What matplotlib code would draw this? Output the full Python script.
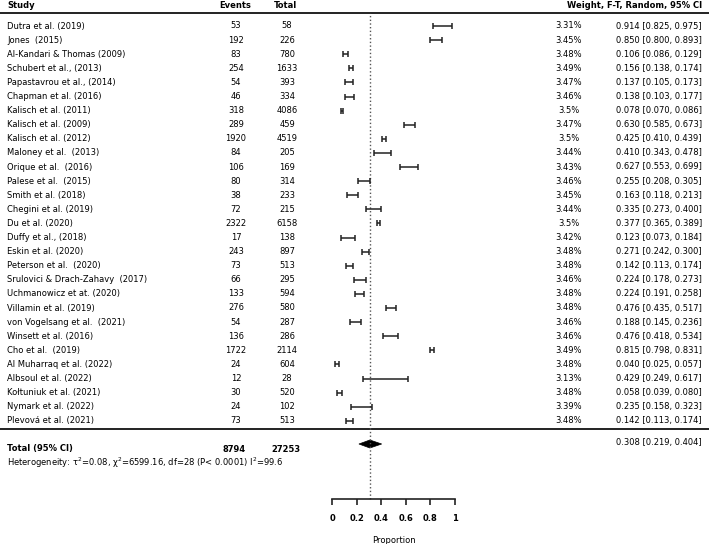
import matplotlib
matplotlib.use('Agg')
import matplotlib.pyplot as plt
from matplotlib.patches import Polygon

# study level data
studies = ["Dutra et al. (2019)", "Jones  (2015)", "Al-Kandari & Thomas (2009)",
           "Schubert et al., (2013)", "Papastavrou et al., (2014)", "Chapman et al. (2016)",
           "Kalisch et al. (2011)", "Kalisch et al. (2009)", "Kalisch et al. (2012)",
           "Maloney et al.  (2013)", "Orique et al.  (2016)", "Palese et al.  (2015)",
           "Smith et al. (2018)", "Chegini et al. (2019)", "Du et al. (2020)",
           "Duffy et al., (2018)", "Eskin et al. (2020)", "Peterson et al.  (2020)",
           "Srulovici & Drach-Zahavy  (2017)", "Uchmanowicz et at. (2020)",
           "Villamin et al. (2019)", "von Vogelsang et al.  (2021)", "Winsett et al. (2016)",
           "Cho et al.  (2019)", "Al Muharraq et al. (2022)", "Albsoul et al. (2022)",
           "Kołtuniuk et al. (2021)", "Nymark et al. (2022)", "Plevová et al. (2021)"]
events = [53, 192, 83, 254, 54, 46, 318, 289, 1920, 84, 106, 80, 38, 72, 2322, 17,
          243, 73, 66, 133, 276, 54, 136, 1722, 24, 12, 30, 24, 73]
totals = [58, 226, 780, 1633, 393, 334, 4086, 459, 4519, 205, 169, 314, 233, 215, 6158,
          138, 897, 513, 295, 594, 580, 287, 286, 2114, 604, 28, 520, 102, 513]
weights = [3.31, 3.45, 3.48, 3.49, 3.47, 3.46, 3.5, 3.47, 3.5, 3.44, 3.43, 3.46, 3.45,
           3.44, 3.5, 3.42, 3.48, 3.48, 3.46, 3.48, 3.48, 3.46, 3.46, 3.49, 3.48, 3.13,
           3.48, 3.39, 3.48]
est = [0.914, 0.850, 0.106, 0.156, 0.137, 0.138, 0.078, 0.630, 0.425, 0.410, 0.627,
       0.255, 0.163, 0.335, 0.377, 0.123, 0.271, 0.142, 0.224, 0.224, 0.476, 0.188,
       0.476, 0.815, 0.040, 0.429, 0.058, 0.235, 0.142]
lo = [0.825, 0.800, 0.086, 0.138, 0.105, 0.103, 0.070, 0.585, 0.410, 0.343, 0.553,
      0.208, 0.118, 0.273, 0.365, 0.073, 0.242, 0.113, 0.178, 0.191, 0.435, 0.145,
      0.418, 0.798, 0.025, 0.249, 0.039, 0.158, 0.113]
hi = [0.975, 0.893, 0.129, 0.174, 0.173, 0.177, 0.086, 0.673, 0.439, 0.478, 0.699,
      0.305, 0.213, 0.400, 0.389, 0.184, 0.300, 0.174, 0.273, 0.258, 0.517, 0.236,
      0.534, 0.831, 0.057, 0.617, 0.080, 0.323, 0.174]

# pooled estimate
total_events = 8794
total_n = 27253
pooled = 0.308
pooled_lo = 0.219
pooled_hi = 0.404
het_text = "Heterogeneity: τ$^2$=0.08, χ$^2$=6599.16, df=28 (P< 0.0001) I$^2$=99.6"
xticks = [0, 0.2, 0.4, 0.6, 0.8, 1]
xticklabels = ["0", "0.2", "0.4", "0.6", "0.8", "1"]

plt.rcParams['font.family'] = 'DejaVu Sans'
FS = 6
W, H = 709, 544
dark = '#222222'

fig = plt.figure(figsize=(W / 100, H / 100), dpi=100)

# text layer in pixel coordinates
ax_t = fig.add_axes([0, 0, 1, 1])
ax_t.set_xlim(0, W)
ax_t.set_ylim(H, 0)
ax_t.axis('off')

row_y = [26 + 14.1 * i for i in range(len(studies))]

# header
hy = 5
ax_t.text(7, hy, "Study", fontsize=FS, fontweight='bold', va='center', ha='left')
ax_t.text(235, hy, "Events", fontsize=FS, fontweight='bold', va='center', ha='center')
ax_t.text(286, hy, "Total", fontsize=FS, fontweight='bold', va='center', ha='center')
ax_t.text(702, hy, "Weight, F-T, Random, 95% CI", fontsize=FS, fontweight='bold',
          va='center', ha='right')
ax_t.plot([0, W], [13, 13], color=dark, lw=1.4, solid_capstyle='butt')
ax_t.plot([0, W], [429, 429], color=dark, lw=1.4, solid_capstyle='butt')

for i, s in enumerate(studies):
    y = row_y[i]
    ax_t.text(7, y, s, fontsize=FS, va='center', ha='left')
    ax_t.text(236, y, str(events[i]), fontsize=FS, va='center', ha='center')
    ax_t.text(287, y, str(totals[i]), fontsize=FS, va='center', ha='center')
    ax_t.text(569, y, '{:g}%'.format(weights[i]), fontsize=FS, va='center', ha='center')
    ax_t.text(702, y, '{:.3f} [{:.3f}, {:.3f}]'.format(est[i], lo[i], hi[i]),
              fontsize=FS, va='center', ha='right')

# totals
ax_t.text(7, 449, "Total (95% CI)", fontsize=FS, fontweight='bold', va='center', ha='left')
ax_t.text(234, 449, str(total_events), fontsize=FS, fontweight='bold', va='center', ha='center')
ax_t.text(286, 449, str(total_n), fontsize=FS, fontweight='bold', va='center', ha='center')
ax_t.text(702, 442, '{:.3f} [{:.3f}, {:.3f}]'.format(pooled, pooled_lo, pooled_hi),
          fontsize=FS, va='center', ha='right')
ax_t.text(7, 463, het_text, fontsize=FS, va='center', ha='left')

# forest panel: x in proportion, y in pixel rows
x0, x1 = 332, 455
top, bot = 13, 499
ax_f = fig.add_axes([x0 / W, (H - bot) / H, (x1 - x0) / W, (bot - top) / H])
ax_f.set_xlim(0, 1)
ax_f.set_ylim(bot, top)
ax_f.patch.set_alpha(0)
for sp in ['left', 'right', 'top']:
    ax_f.spines[sp].set_visible(False)
ax_f.spines['bottom'].set_linewidth(1.2)
ax_f.spines['bottom'].set_color(dark)
ax_f.set_yticks([])
ax_f.set_xticks(xticks)
ax_f.set_xticklabels(xticklabels, fontsize=FS, fontweight='bold')
ax_f.tick_params(axis='x', direction='out', length=4, width=1.2, color=dark, pad=7)
ax_f.set_xlabel("Proportion", fontsize=FS, labelpad=9)

ax_f.axvline(pooled, color='#555555', lw=1.0, ls=':', clip_on=False)

xerr = [[e - l for e, l in zip(est, lo)], [h - e for e, h in zip(est, hi)]]
ax_f.errorbar(est, row_y, xerr=xerr, fmt='none', ecolor=dark, elinewidth=1.1,
              capsize=2.5, capthick=1.1, clip_on=False)

dy = 4
diamond = Polygon([(pooled_lo, 444), (pooled, 444 - dy), (pooled_hi, 444), (pooled, 444 + dy)],
                  closed=True, facecolor='black', edgecolor='black', lw=0.5, clip_on=False)
ax_f.add_patch(diamond)

fig.savefig('out.png', dpi=100)
